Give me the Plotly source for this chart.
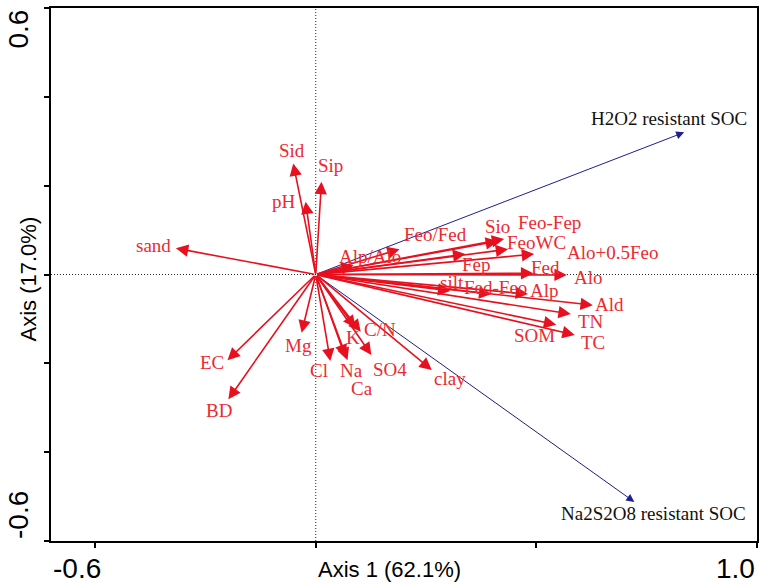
import plotly.graph_objects as go

# ---- data ----
var_names = ["Sid", "Sip", "pH", "sand", "Feo/Fed", "Alp/Alo", "Sio", "Feo-Fep",
             "FeoWC", "Fep", "Alo+0.5Feo", "Fed", "Alo", "silt", "Fed-Feo", "Alp",
             "Ald", "TN", "SOM", "TC", "EC", "BD", "Mg", "Cl", "Na", "Ca", "SO4",
             "K", "C/N", "clay"]
var_x = [-0.051, 0.013, -0.023, -0.317, 0.190, 0.086, 0.413, 0.427,
         0.436, 0.339, 0.495, 0.493, 0.569, 0.305, 0.398, 0.481,
         0.628, 0.578, 0.545, 0.587, -0.200, -0.198, -0.032, 0.033, 0.067, 0.072, 0.126,
         0.090, 0.102, 0.263]
var_y = [0.250, 0.209, 0.164, 0.059, 0.057, 0.021, 0.075, 0.080,
         0.057, 0.046, 0.046, 0.003, -0.001, -0.037, -0.044, -0.044,
         -0.069, -0.089, -0.113, -0.136, -0.193, -0.281, -0.131, -0.195, -0.186, -0.193, -0.181,
         -0.120, -0.129, -0.215]

resp_names = ["H2O2 resistant SOC", "Na2S2O8 resistant SOC"]
resp_x = [0.835, 0.722]
resp_y = [0.320, -0.512]

x_range = [-0.6, 1.0]
y_range = [-0.6, 0.6]
x_ticks = [-0.5, 0.0, 0.5, 1.0]
y_ticks = [-0.6, -0.4, -0.2, 0.0, 0.2, 0.4, 0.6]
x_title = "Axis 1 (62.1%)"
y_title = "Axis (17.0%)"

# ---- label placement offsets (pixels: right, down) ----
label_offsets = {
    "Sid": (-1, -13), "Sip": (9, -16), "pH": (-22, 0), "sand": (-22, -3),
    "Feo/Fed": (36, -15), "Alp/Alo": (16, -9), "Sio": (0, -15), "Feo-Fep": (45, -16),
    "FeoWC": (28, -7), "Fep": (11, 10), "Alo+0.5Feo": (78, -2), "Fed": (12, -6),
    "Alo": (22, 3), "silt": (2, -8), "Fed-Feo": (4, -7), "Alp": (17, -4),
    "Ald": (17, -1), "TN": (20, 7), "SOM": (-22, 11), "TC": (18, 8),
    "EC": (-16, 2), "BD": (-9, 11), "Mg": (-3, 13), "Cl": (-11, 9), "Na": (6, 13),
    "Ca": (14, 28), "SO4": (19, 15), "K": (-2, 10), "C/N": (19, -2), "clay": (18, 8),
    "H2O2 resistant SOC": (-15, -14), "Na2S2O8 resistant SOC": (19, 12),
}

RED = "#E8101E"
LABEL_RED = "#EC2A30"
BLUE = "#1E1E8C"
SERIF = "Liberation Serif, Times New Roman, serif"
SANS = "Liberation Sans, Arial, sans-serif"

fig = go.Figure()
# invisible trace to establish axes
fig.add_trace(go.Scatter(x=var_x, y=var_y, mode="markers",
                         marker=dict(size=1, opacity=0), hoverinfo="skip", showlegend=False))

fig.add_vline(x=0, line=dict(color="#222", width=1, dash="1px,2px"))
fig.add_hline(y=0, line=dict(color="#222", width=1, dash="1px,2px"))

ann = []
# response (blue) arrows
for n, x, y in zip(resp_names, resp_x, resp_y):
    ann.append(dict(x=x, y=y, ax=0, ay=0, xref="x", yref="y", axref="x", ayref="y",
                    text="", showarrow=True, arrowhead=2, arrowsize=1.6, arrowwidth=1,
                    arrowcolor=BLUE, standoff=0, startstandoff=0))
# explanatory (red) arrows
for n, x, y in zip(var_names, var_x, var_y):
    ann.append(dict(x=x, y=y, ax=0, ay=0, xref="x", yref="y", axref="x", ayref="y",
                    text="", showarrow=True, arrowhead=2, arrowsize=1.55, arrowwidth=1.6,
                    arrowcolor=RED, standoff=0, startstandoff=0))
# labels
for n, x, y in zip(var_names, var_x, var_y):
    dx, dy = label_offsets[n]
    ann.append(dict(x=x, y=y, xref="x", yref="y", text=n, showarrow=False,
                    xshift=dx, yshift=-dy, font=dict(family=SERIF, size=19, color=LABEL_RED)))
for n, x, y in zip(resp_names, resp_x, resp_y):
    dx, dy = label_offsets[n]
    ann.append(dict(x=x, y=y, xref="x", yref="y", text=n, showarrow=False,
                    xshift=dx, yshift=-dy, font=dict(family=SERIF, size=19, color="#111")))

# end tick labels (Canoco style)
tick_font = dict(family=SANS, size=28, color="black")
ann.append(dict(x=x_range[0], y=0, xref="x", yref="paper", text=f"{x_range[0]:.1f}",
                showarrow=False, xanchor="left", yanchor="top", yshift=-10, font=tick_font))
ann.append(dict(x=x_range[1], y=0, xref="x", yref="paper", text=f"{x_range[1]:.1f}",
                showarrow=False, xanchor="right", yanchor="top", yshift=-10, font=tick_font))
ann.append(dict(x=0, y=y_range[1], xref="paper", yref="y", text=f"{y_range[1]:.1f}",
                showarrow=False, xanchor="center", yanchor="top", xshift=-33,
                textangle=-90, font=tick_font))
ann.append(dict(x=0, y=y_range[0], xref="paper", yref="y", text=f"{y_range[0]:.1f}",
                showarrow=False, xanchor="center", yanchor="bottom", xshift=-33,
                textangle=-90, font=tick_font))
# axis titles
title_font = dict(family=SANS, size=22, color="black")
ann.append(dict(x=0, y=0, xref="x", yref="paper", text=x_title, showarrow=False,
                xanchor="left", yanchor="top", yshift=-14, font=title_font))
ann.append(dict(x=0, y=0, xref="paper", yref="y", text=y_title, showarrow=False,
                xanchor="center", yanchor="middle", xshift=-23, yshift=-5,
                textangle=-90, font=title_font))

fig.update_layout(
    width=764, height=584,
    margin=dict(l=51, r=5, t=8, b=43),
    paper_bgcolor="white", plot_bgcolor="white",
    showlegend=False,
    annotations=ann,
    xaxis=dict(range=x_range, tickvals=x_ticks, showticklabels=False, ticks="outside",
               ticklen=5, tickwidth=1.5, tickcolor="black", showgrid=False, zeroline=False,
               showline=True, linecolor="black", linewidth=1.6, mirror=True, fixedrange=True),
    yaxis=dict(range=y_range, tickvals=y_ticks, showticklabels=False, ticks="outside",
               ticklen=5, tickwidth=1.5, tickcolor="black", showgrid=False, zeroline=False,
               showline=True, linecolor="black", linewidth=1.6, mirror=True, fixedrange=True),
)

fig.write_html("out.html", config={"displayModeBar": False},
               post_script="document.body.style.margin='0';document.body.style.overflow='hidden';")
